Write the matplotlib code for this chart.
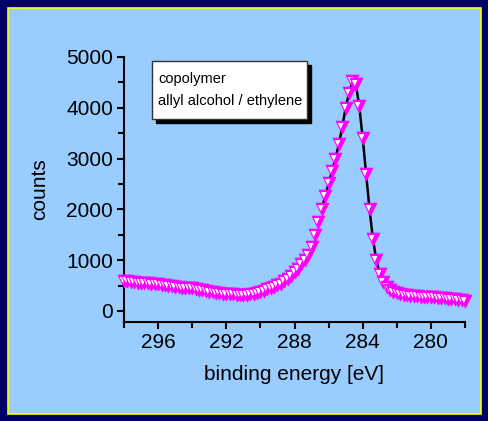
import matplotlib
matplotlib.use('Agg')
import matplotlib.pyplot as plt
from matplotlib.patches import Rectangle
from matplotlib.path import Path
from matplotlib.ticker import MultipleLocator

plt.rcParams['font.family'] = ['Liberation Sans', 'DejaVu Sans']

# binding energy [eV] (0.2 eV steps, left to right)
energy = [298.0, 297.8, 297.6, 297.4, 297.2, 297.0, 296.8, 296.6, 296.4, 296.2,
          296.0, 295.8, 295.6, 295.4, 295.2, 295.0, 294.8, 294.6, 294.4, 294.2,
          294.0, 293.8, 293.6, 293.4, 293.2, 293.0, 292.8, 292.6, 292.4, 292.2,
          292.0, 291.8, 291.6, 291.4, 291.2, 291.0, 290.8, 290.6, 290.4, 290.2,
          290.0, 289.8, 289.6, 289.4, 289.2, 289.0, 288.8, 288.6, 288.4, 288.2,
          288.0, 287.8, 287.6, 287.4, 287.2, 287.0, 286.8, 286.6, 286.4, 286.2,
          286.0, 285.8, 285.6, 285.4, 285.2, 285.0, 284.8, 284.6, 284.4, 284.2,
          284.0, 283.8, 283.6, 283.4, 283.2, 283.0, 282.8, 282.6, 282.4, 282.2,
          282.0, 281.8, 281.6, 281.4, 281.2, 281.0, 280.8, 280.6, 280.4, 280.2,
          280.0, 279.8, 279.6, 279.4, 279.2, 279.0, 278.8, 278.6, 278.4, 278.2,
          278.0]
counts = [600, 590, 580, 570, 560, 555, 548, 542, 535, 530,
          525, 515, 505, 495, 488, 480, 470, 462, 455, 450,
          445, 430, 418, 405, 392, 380, 368, 358, 350, 342,
          335, 330, 325, 322, 320, 320, 322, 328, 338, 355,
          375, 400, 425, 452, 478, 505, 540, 585, 635, 695,
          760, 835, 920, 1000, 1110, 1260, 1500, 1750, 2000, 2260,
          2510, 2750, 3000, 3280, 3620, 4000, 4290, 4520, 4460, 4030,
          3400, 2700, 2000, 1420, 1000, 730, 570, 470, 410, 370,
          345, 330, 318, 310, 302, 296, 290, 285, 280, 276,
          272, 266, 260, 254, 248, 242, 236, 228, 220, 212,
          205]

# fitted peak (black line), same points over the peak region
fit_energy = [e for e in energy if 282.8 <= e <= 286.4]
fit_counts = [c for e, c in zip(energy, counts) if 282.8 <= e <= 286.4]

legend_lines = ['copolymer', 'allyl alcohol / ethylene']

# marker: magenta down triangle with a white highlight on its left part
outer = Path([(-1, 1), (1, 1), (0, -1), (-1, 1)],
             [Path.MOVETO, Path.LINETO, Path.LINETO, Path.CLOSEPOLY])
inner = Path([(-1, 1), (1, -1), (-0.75, 0.72), (0.15, 0.72), (-0.28, -0.25), (-0.75, 0.72)],
             [Path.MOVETO, Path.MOVETO, Path.MOVETO, Path.LINETO, Path.LINETO, Path.CLOSEPOLY])

W, H = 488, 421
fig = plt.figure(figsize=(W / 100, H / 100), dpi=100, facecolor='#000066')
fig.patches.append(Rectangle((8 / W, 7 / H), (W - 15) / W, (H - 15) / H,
                             transform=fig.transFigure, facecolor='#99ccff',
                             edgecolor='#ffff00', linewidth=1.2, zorder=-10))

ax = fig.add_axes([124 / W, 99 / H, 341 / W, 265 / H])
ax.set_facecolor('none')

ax.plot(fit_energy, fit_counts, color='black', lw=1.8, zorder=2)
for e, c in zip(energy, counts):
    ax.plot([e], [c], linestyle='none', marker=outer, markersize=9,
            markerfacecolor='#ff00ff', markeredgecolor='#ff00ff',
            markeredgewidth=0.8, zorder=3, clip_on=False)
    ax.plot([e], [c], linestyle='none', marker=inner, markersize=9,
            markerfacecolor='white', markeredgewidth=0, zorder=3, clip_on=False)

ax.set_xlim(298, 278)
ax.set_ylim(-217, 5000)
ax.xaxis.set_major_locator(MultipleLocator(4))
ax.xaxis.set_minor_locator(MultipleLocator(2))
ax.yaxis.set_major_locator(MultipleLocator(1000))
ax.yaxis.set_minor_locator(MultipleLocator(500))
ax.set_xticks([296, 292, 288, 284, 280])

for s in ['top', 'right']:
    ax.spines[s].set_visible(False)
for s in ['left', 'bottom']:
    ax.spines[s].set_linewidth(1.5)
ax.tick_params(which='major', length=5, width=1.5, labelsize=15, pad=3)
ax.tick_params(which='minor', length=4, width=1.5)

ax.set_xlabel('binding energy [eV]', fontsize=15, labelpad=9)
ax.set_ylabel('counts', fontsize=15, labelpad=12)

# annotation box with drop shadow
bx, by, bw, bh = 152 / W, (H - 119) / H, 155 / W, 58 / H
fig.patches.append(Rectangle((bx + 4 / W, by - 4 / H), bw, bh, transform=fig.transFigure,
                             facecolor='black', edgecolor='black', zorder=5))
fig.patches.append(Rectangle((bx, by), bw, bh, transform=fig.transFigure,
                             facecolor='white', edgecolor='#333333', linewidth=1, zorder=6))
fig.text(bx + 6 / W, (H - 79) / H, legend_lines[0], fontsize=10.5, va='center', zorder=7)
fig.text(bx + 6 / W, (H - 101) / H, legend_lines[1], fontsize=10.5, va='center', zorder=7)

fig.savefig('out.png', dpi=100, facecolor=fig.get_facecolor())
